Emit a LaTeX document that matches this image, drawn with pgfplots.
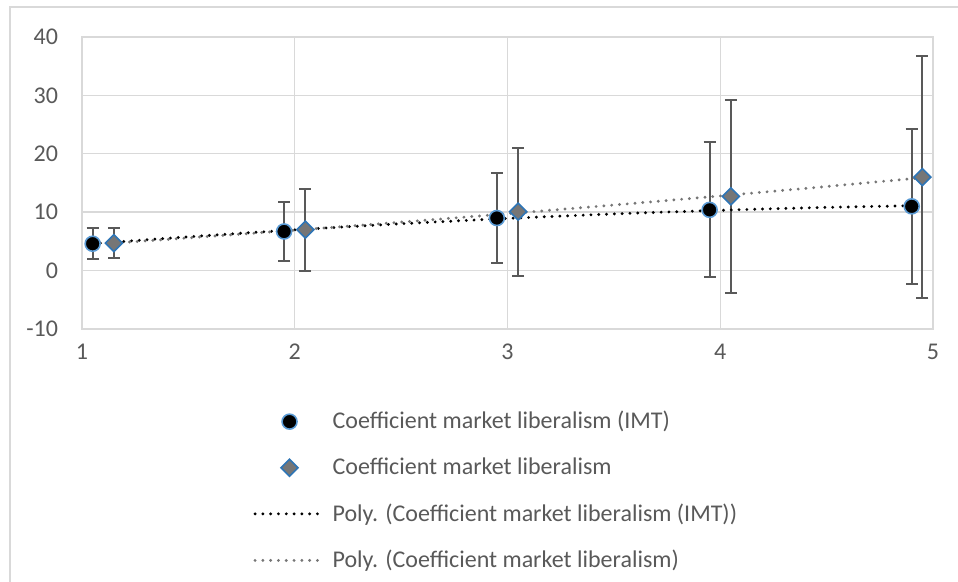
\documentclass[border=0pt]{standalone}
\usepackage{pgfplots}
\pgfplotsset{compat=1.18}
\usepackage{fontspec}
\setmainfont{Carlito}
\definecolor{gridc}{HTML}{D9D9D9}
\definecolor{txt}{HTML}{595959}
\definecolor{errc}{HTML}{595959}
\definecolor{edgeA}{HTML}{5B9BD5}
\definecolor{edgeB}{HTML}{2E75B6}
\definecolor{fillB}{HTML}{767676}
\definecolor{trendB}{HTML}{767676}
\begin{document}
\begin{tikzpicture}
\useasboundingbox (0,0) rectangle (479pt,291pt);
\draw[gridc, line width=0.6pt] (5pt,0) -- (5pt,287.5pt) -- (479pt,287.5pt);
\begin{axis}[
  at={(41pt,126.5pt)}, anchor=south west,
  scale only axis, width=425.5pt, height=146pt,
  xmin=1, xmax=5, ymin=-10, ymax=40,
  xtick={1,2,3,4,5}, ytick={-10,0,10,20,30,40},
  grid=major,
  major grid style={gridc, line width=0.7pt},
  axis line style={gridc, line width=0.7pt},
  tick style={draw=none},
  tick label style={font=\fontsize{12}{14}\selectfont, text=txt},
  /pgf/number format/assume math mode=true,
  xticklabel style={yshift=-4pt},
  yticklabel style={xshift=-8.5pt},
  clip=false,
  legend image code/.code={\draw[mark repeat=2,mark phase=2,#1] plot coordinates {(0pt,0pt) (17.25pt,0pt) (34.5pt,0pt)};},
  legend style={draw=none, fill=none, inner sep=0pt,
    at={(0.201,-0.267)}, anchor=north west,
    font=\fontsize{12}{14}\selectfont, text=txt,
    row sep=9pt,
    /tikz/every odd column/.append style={column sep=1.5pt}},
  legend cell align=left,
]
\addplot+[only marks, mark=*, mark size=3.75pt,
  mark options={fill=black, draw=edgeA, line width=0.8pt},
  error bars/.cd, y dir=both, y explicit,
  error bar style={errc, line width=1pt},
  error mark options={rotate=90, mark size=3pt, errc, line width=1pt}]
  table[x=x, y=y, y error=e] {
x    y    e
1.05 4.6  2.7
1.95 6.7  5.0
2.95 9.0  7.75
3.95 10.4 11.55
4.90 11.0 13.3
};
\addlegendentry{Coefficient market liberalism (IMT)}
\addplot+[only marks, mark=square*, mark size=3.0pt,
  mark options={rotate=45, fill=fillB, draw=edgeB, line width=0.8pt},
  error bars/.cd, y dir=both, y explicit,
  error bar style={errc, line width=1pt},
  error mark options={rotate=90, mark size=3pt, errc, line width=1pt}]
  table[x=x, y=y, y error=e] {
x    y    e
1.15 4.7  2.6
2.05 7.0  7.0
3.05 10.1 10.95
4.05 12.7 16.5
4.95 16.0 20.75
};
\addlegendentry{Coefficient market liberalism}
\addplot[black, line width=1.6pt, line cap=round, dash pattern=on 0pt off 3.9pt, smooth, no marks]
  coordinates {(1.05,4.60) (1.5,5.79) (2,6.98) (2.5,8.02) (3,8.93) (3.5,9.70) (4,10.33) (4.5,10.82) (4.9,11.11)};
\addlegendentry{Poly. (Coefficient market liberalism (IMT))}
\addplot[trendB, line width=1.6pt, line cap=round, dash pattern=on 0pt off 3.9pt, smooth, no marks]
  coordinates {(1.15,4.71) (1.5,5.60) (2,6.92) (2.5,8.30) (3,9.74) (3.5,11.23) (4,12.79) (4.5,14.40) (4.95,15.91)};
\addlegendentry{Poly. (Coefficient market liberalism)}
\end{axis}
\end{tikzpicture}
\end{document}
